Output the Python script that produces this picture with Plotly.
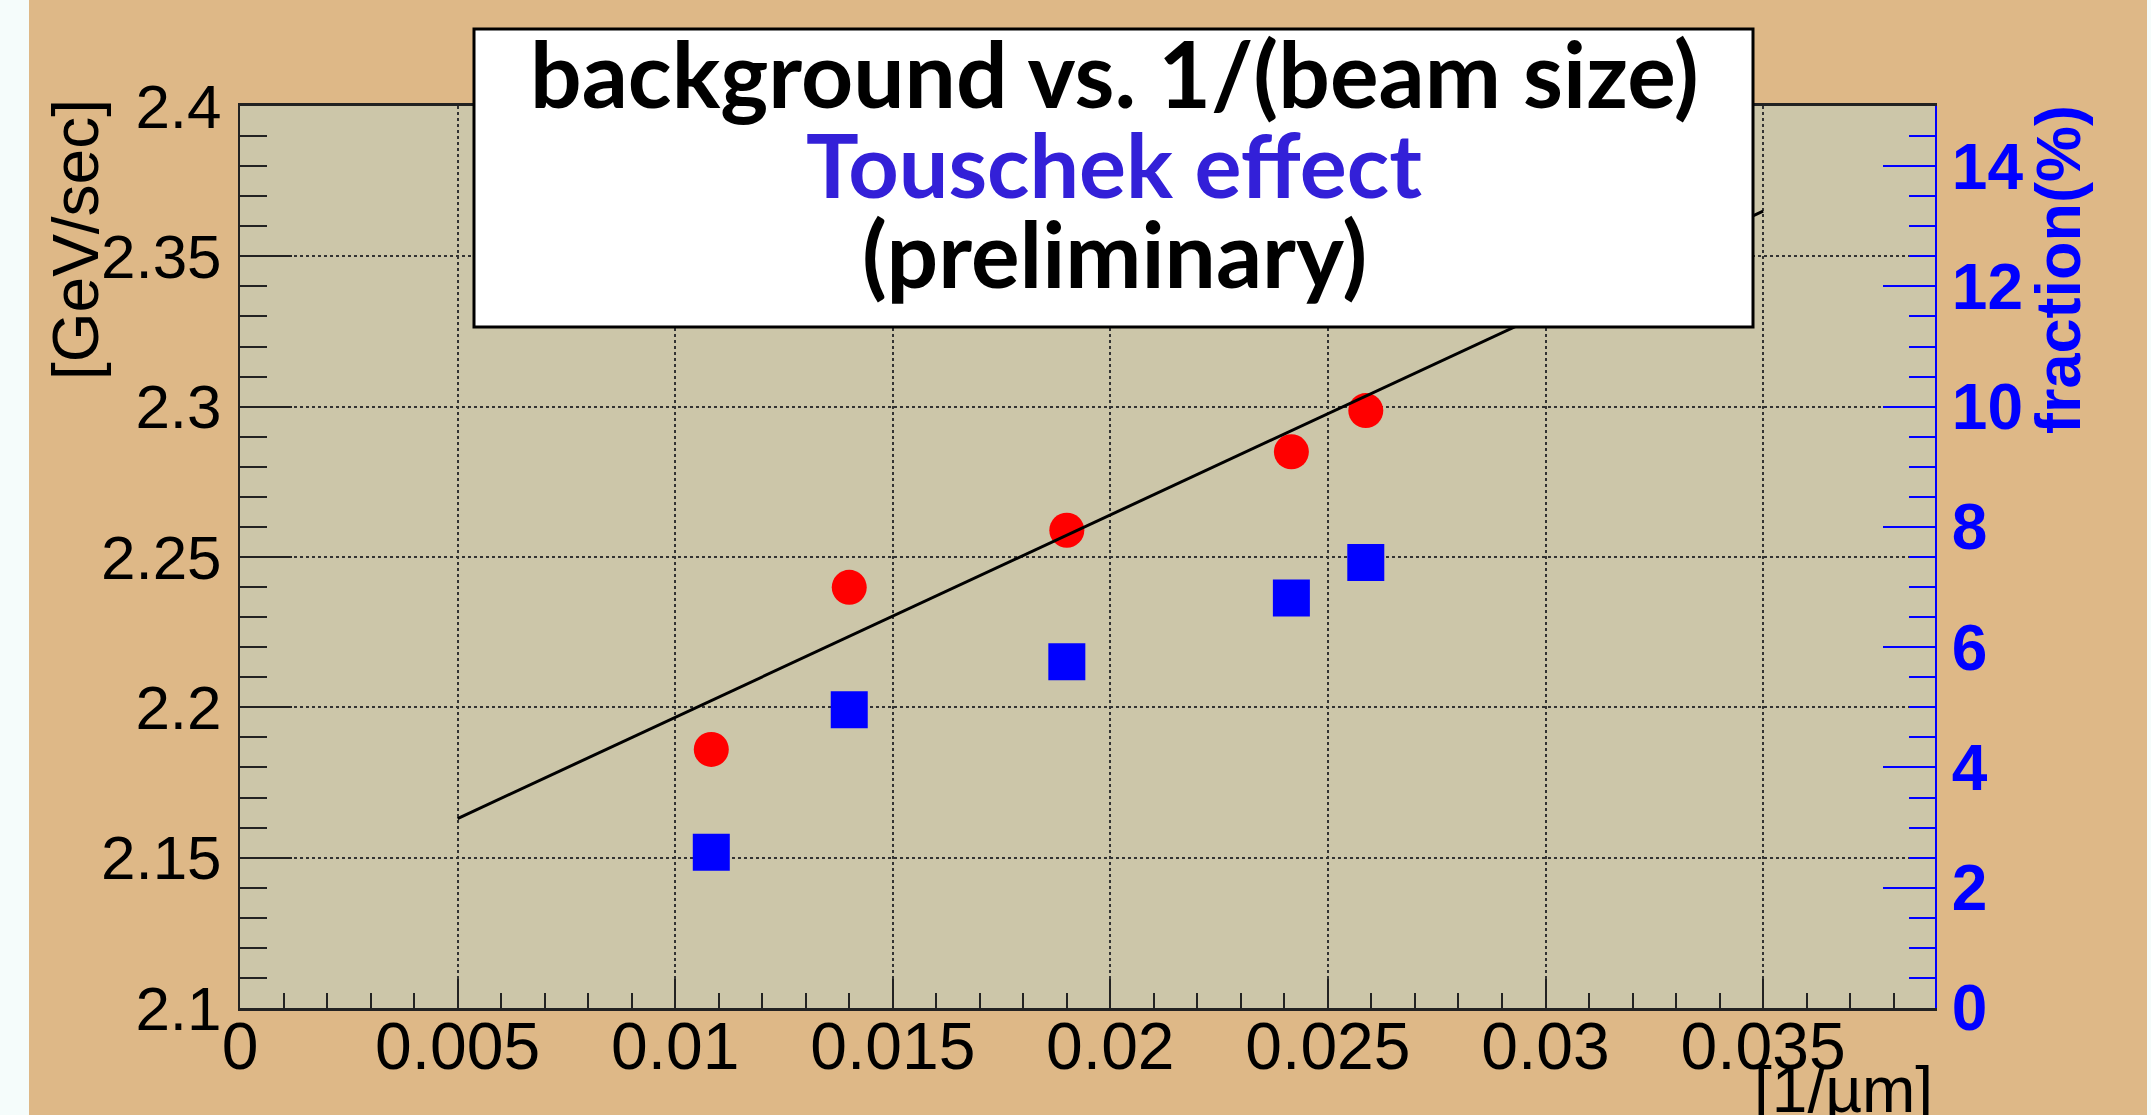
import plotly.graph_objects as go

# ---------------- data ----------------
inv_beam_size = [0.01083, 0.01400, 0.01900, 0.02416, 0.02587]          # [1/um]
background = [2.1860, 2.2399, 2.2589, 2.2850, 2.2987]                   # [GeV/sec]
touschek_fraction = [2.59, 4.96, 5.76, 6.82, 7.41]                      # fraction(%)
fit_x = [0.005, 0.035]
fit_y = [2.163, 2.365]

x_tickvals = [0, 0.005, 0.01, 0.015, 0.02, 0.025, 0.03, 0.035]
x_ticktext = ["0", "0.005", "0.01", "0.015", "0.02", "0.025", "0.03", "0.035"]
y_tickvals = [2.1, 2.15, 2.2, 2.25, 2.3, 2.35, 2.4]
y_ticktext = ["2.1", "2.15", "2.2", "2.25", "2.3", "2.35", "2.4"]
y2_tickvals = [0, 2, 4, 6, 8, 10, 12, 14]
y2_ticktext = ["0", "2", "4", "6", "8", "10", "12", "14"]

title_lines = ["background vs. 1/(beam size)", "Touschek effect", "(preliminary)"]
x_title = "[1/µm]"
y_title = "[GeV/sec]"
y2_title = "fraction(%)"

# ---------------- style ----------------
W, H = 2151, 1115
L, R, T, B = 240, 216, 106, 107
PW, PH = W - L - R, H - T - B

def px(x):
    return (x - L) / PW

def py(y):
    return (H - B - y) / PH

TAN = "#deb887"
PLOTBG = "#ccc6a9"
BLUE = "#0000ff"
SANS = "Liberation Sans, Arial, sans-serif"

fig = go.Figure()

fig.add_trace(go.Scatter(
    x=inv_beam_size, y=background, mode="markers",
    marker=dict(symbol="circle", size=35, color="#ff0000", line=dict(width=0)),
    xaxis="x", yaxis="y", showlegend=False, hoverinfo="skip"))

fig.add_trace(go.Scatter(
    x=fit_x, y=fit_y, mode="lines",
    line=dict(color="black", width=3),
    xaxis="x", yaxis="y", showlegend=False, hoverinfo="skip"))

fig.add_trace(go.Scatter(
    x=inv_beam_size, y=touschek_fraction, mode="markers",
    marker=dict(symbol="square", size=37, color=BLUE, line=dict(width=0)),
    xaxis="x", yaxis="y2", showlegend=False, hoverinfo="skip"))

grid = dict(showgrid=True, gridcolor="#333333", gridwidth=2, griddash="dot")

fig.update_layout(
    width=W, height=H,
    margin=dict(l=L, r=R, t=T, b=B, pad=0),
    paper_bgcolor=TAN, plot_bgcolor=PLOTBG,
    showlegend=False,
    xaxis=dict(
        range=[0, 0.03895], autorange=False,
        tickmode="array", tickvals=x_tickvals, ticktext=x_ticktext,
        ticks="inside", ticklen=29, tickwidth=2, tickcolor="#222",
        minor=dict(ticks="inside", ticklen=15, tickwidth=2, tickcolor="#222",
                   dtick=0.001, tick0=0, showgrid=False),
        showline=True, linecolor="#222", linewidth=3, mirror=True,
        tickfont=dict(family=SANS, size=66, color="black"), ticklabelstandoff=-21,
        zeroline=False, automargin=False, **grid),
    yaxis=dict(
        range=[2.1, 2.4], autorange=False,
        tickmode="array", tickvals=y_tickvals, ticktext=y_ticktext,
        ticks="inside", ticklen=52, tickwidth=2, tickcolor="#222",
        minor=dict(ticks="inside", ticklen=27, tickwidth=2, tickcolor="#222",
                   dtick=0.01, tick0=2.1, showgrid=False),
        showline=True, linecolor="#222", linewidth=2,
        tickfont=dict(family=SANS, size=62, color="black"), ticklabelstandoff=4,
        zeroline=False, automargin=False, **grid),
    yaxis3=dict(
        range=[0, 15], autorange=False, overlaying="y", side="left",
        tickmode="array", tickvals=y2_tickvals,
        ticks="inside", ticklen=52, tickwidth=2, tickcolor="#222",
        showticklabels=False, showgrid=False, showline=False,
        zeroline=False, automargin=False),
    yaxis2=dict(
        range=[0, 15], autorange=False, overlaying="y", side="right",
        tickmode="array", tickvals=y2_tickvals, ticktext=y2_ticktext,
        ticks="inside", ticklen=52, tickwidth=2, tickcolor=BLUE,
        minor=dict(ticks="inside", ticklen=26, tickwidth=2, tickcolor=BLUE,
                   dtick=0.5, tick0=0, showgrid=False),
        showline=True, linecolor=BLUE, linewidth=2,
        tickfont=dict(family=SANS, size=64, color=BLUE, weight="bold"),
        ticklabelstandoff=2,
        showgrid=False, zeroline=False, automargin=False),
)

shapes = [
    # white strip at the left edge of the picture
    dict(type="rect", xref="paper", yref="paper", layer="below",
         x0=px(0), x1=px(29), y0=py(H), y1=py(0),
         fillcolor="#f5fcfb", line=dict(width=0)),
    # white strip at the right edge of the picture
    dict(type="rect", xref="paper", yref="paper", layer="below",
         x0=px(2147), x1=px(W), y0=py(H), y1=py(0),
         fillcolor="#f5fcfb", line=dict(width=0)),
    # title box
    dict(type="rect", xref="paper", yref="paper", layer="above",
         x0=px(474), x1=px(1753), y0=py(327), y1=py(29),
         fillcolor="white", line=dict(color="black", width=3)),
]
fig.update_layout(shapes=shapes)

TFONT = "Lato, Noto Sans, sans-serif"
cx = px(1114)
annotations = [
    dict(text="<b>%s</b>" % title_lines[0], x=cx, y=py(73), xref="paper", yref="paper",
         xanchor="center", yanchor="middle", showarrow=False,
         font=dict(family=TFONT, size=91, color="black")),
    dict(text="<b>%s</b>" % title_lines[1], x=cx, y=py(164), xref="paper", yref="paper",
         xanchor="center", yanchor="middle", showarrow=False,
         font=dict(family=TFONT, size=88, color="#3320d8")),
    dict(text="<b>%s</b>" % title_lines[2], x=cx, y=py(252), xref="paper", yref="paper",
         xanchor="center", yanchor="middle", showarrow=False,
         font=dict(family=TFONT, size=91, color="black")),
    dict(text=x_title, x=px(1935), y=py(1052), xref="paper", yref="paper",
         xanchor="right", yanchor="top", showarrow=False,
         font=dict(family=SANS, size=64, color="black")),
    dict(text=y_title, x=px(76), y=py(240), xref="paper", yref="paper",
         xanchor="center", yanchor="middle", textangle=-90, showarrow=False,
         font=dict(family=SANS, size=64, color="black")),
    dict(text="<b>%s</b>" % y2_title, x=px(2058), y=py(270), xref="paper", yref="paper",
         xanchor="center", yanchor="middle", textangle=-90, showarrow=False,
         font=dict(family=SANS, size=63, color=BLUE)),
]
fig.update_layout(annotations=annotations)

fig.write_html("out.html")
